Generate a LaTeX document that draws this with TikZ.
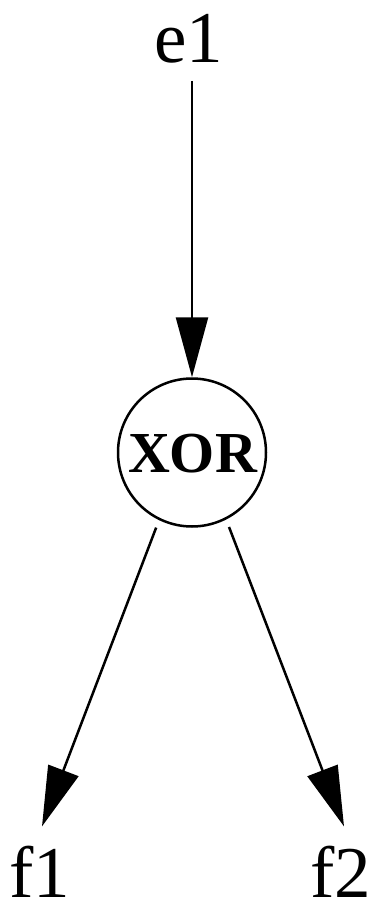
\documentclass[tikz,border=0pt]{standalone}
\usepackage{fontspec}
\setmainfont{Liberation Serif}
\usetikzlibrary{arrows.meta}
\begin{document}
\begin{tikzpicture}[x=1pt,y=1pt,
  lbl/.style={inner sep=0pt, anchor=base, font=\fontsize{73}{73}\selectfont},
  gate/.style={circle, draw, line width=2.5pt, minimum size=148pt, inner sep=0pt, font=\fontsize{58}{58}\selectfont\bfseries},
  arr/.style={line width=2.5pt, -{Triangle[length=60pt,width=32pt]}}]
\useasboundingbox (0,0) rectangle (376,-904);
\node[lbl] (e1) at (189,-63) {e1};
\node[gate] (xor) at (192,-452.5) {};
\node[inner sep=0pt, anchor=base, font=\fontsize{58}{58}\selectfont\bfseries] (xort) at (192.5,-472) {XOR};
\node[lbl] (f1) at (40,-897) {f1};
\node[lbl] (f2) at (341,-897) {f2};
\draw[arr, shorten <=17pt] (xor.north |- e1.south) -- (xor.north);
\draw[arr, shorten <=8pt] (xor.244) -- ([xshift=2pt,yshift=19pt]f1.north);
\draw[arr, shorten <=8pt] (xor.297) -- ([xshift=3pt,yshift=19pt]f2.north);
\end{tikzpicture}
\end{document}
